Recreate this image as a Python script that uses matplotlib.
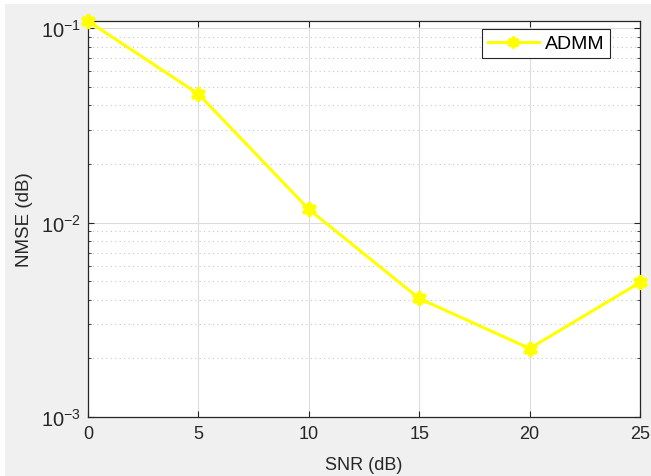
import numpy as np
import matplotlib
matplotlib.use('Agg')
import matplotlib.pyplot as plt
import matplotlib.patches as mpatches
from matplotlib.ticker import LogLocator, NullFormatter

plt.rcParams['font.family'] = ['Liberation Sans', 'DejaVu Sans']
plt.rcParams['mathtext.fontset'] = 'custom'
plt.rcParams['mathtext.rm'] = 'Liberation Sans'
plt.rcParams['mathtext.it'] = 'Liberation Sans:italic'

snr = [0, 5, 10, 15, 20, 25]
nmse_admm = [0.1087, 0.0458, 0.0117, 0.00407, 0.00225, 0.00492]

dark = '#262626'

fig = plt.figure(figsize=(6.51, 4.77), dpi=100)
fig.patch.set_facecolor('white')
# grey MATLAB-style figure background, leaving a thin white strip on top/left
fig.patches.append(mpatches.Rectangle((5 / 651, 0), 1, 1 - 5 / 477,
                                      transform=fig.transFigure,
                                      facecolor='#f0f0f0', edgecolor='none',
                                      zorder=-10))

ax = fig.add_axes([88 / 651, 1 - 418 / 477, (640 - 88) / 651, (418 - 22) / 477])
ax.set_facecolor('white')
ax.plot(snr, nmse_admm, color='#ffff00', linewidth=2.2, marker=(6, 1, 0),
        markersize=10, markerfacecolor='#ffff00', markeredgecolor='#ffff00',
        markeredgewidth=2.5, label='ADMM', clip_on=False, zorder=5)

ax.set_yscale('log')
ax.set_xlim(0, 25)
ax.set_ylim(1e-3, 0.1087)
ax.set_xticks(snr)
ax.yaxis.set_major_locator(LogLocator(base=10, numticks=10))
ax.yaxis.set_minor_locator(LogLocator(base=10, subs=np.arange(2, 10), numticks=10))
ax.yaxis.set_minor_formatter(NullFormatter())

ax.grid(True, which='major', color='#dcdcdc', linewidth=0.8, linestyle='-')
ax.grid(True, which='minor', axis='y', color='#c8c8c8', linewidth=0.8,
        linestyle=(0, (1, 3)))
ax.set_axisbelow(True)

ax.tick_params(which='both', direction='in', top=True, right=True,
               colors=dark, labelsize=13, pad=6)
ax.tick_params(axis='y', labelsize=14.5, pad=5)
ax.tick_params(which='major', length=4)
ax.tick_params(which='minor', length=2.5)
for s in ax.spines.values():
    s.set_color(dark)
    s.set_linewidth(0.9)

ax.set_xlabel('SNR (dB)', fontsize=13, color=dark, labelpad=10)
ax.set_ylabel('NMSE (dB)', fontsize=13.5, color=dark, labelpad=6)

leg = ax.legend(loc='upper right', bbox_to_anchor=(610 / 651, 1 - 30 / 477),
                bbox_transform=fig.transFigure, fontsize=14, frameon=True,
                fancybox=False, borderaxespad=0, handlelength=2.6,
                borderpad=0.3, handletextpad=0.3, markerscale=0.8)
leg.get_frame().set_edgecolor(dark)
leg.get_frame().set_linewidth(0.8)
leg.get_frame().set_facecolor('white')
leg.get_frame().set_alpha(1)

fig.savefig('out.png', dpi=100, facecolor=fig.get_facecolor())
